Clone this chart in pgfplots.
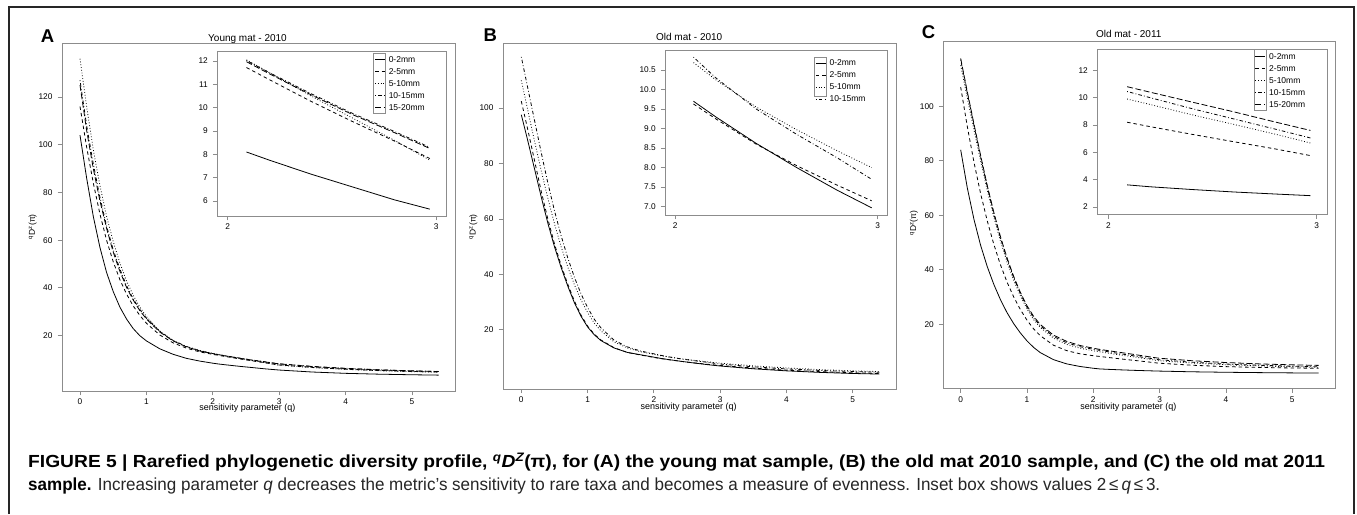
\documentclass[border=0pt]{standalone}
\usepackage{graphicx}
\usepackage{pgfplots}
\pgfplotsset{compat=1.18}
\usepackage{pgfplotstable}
\usepackage{fontspec}
\setmainfont{Liberation Sans}
\definecolor{axgray}{RGB}{140,140,140}

\pgfplotstableread{
q d02 d25 d510 d1015 d1520
0 104 116 136 127 125
0.1 86 99 116 108 106
0.2 70 84 98 92 90
0.3 57 71 83 78 76.5
0.4 46.5 60 70 66 65
0.5 38.5 51 59.5 56 55
0.6 32 43.5 50.5 48 47
0.7 27 37.5 43 41 40.3
0.8 23 32.5 37 35.5 35
0.9 20 28.5 32 31 30.5
1.0 17.8 25.2 28 27.3 27
1.2 14.5 20.3 22 21.8 21.5
1.4 12.2 17 18 18 17.8
1.6 10.5 14.8 15.5 15.5 15.3
1.8 9.35 13.2 13.8 13.7 13.6
2.0 8.45 12.15 12.55 12.47 12.42
2.09 8.1 11.72 12.05 12.02 11.97
2.2 7.75 11.2 11.5 11.5 11.45
2.4 7.15 10.27 10.5 10.6 10.55
2.6 6.6 9.4 9.55 9.75 9.7
2.8 6.05 8.57 8.6 8.98 8.93
2.97 5.65 7.82 7.75 8.3 8.25
3.0 5.58 7.7 7.62 8.2 8.15
3.5 4.75 6.7 6.6 7.1 7.05
4.0 4.2 5.95 5.85 6.3 6.25
4.5 3.85 5.4 5.3 5.7 5.65
5.0 3.6 5.0 4.9 5.25 5.2
5.4 3.45 4.75 4.65 5.0 4.95
}\tabA

\pgfplotstableread{
q d02 d25 d510 d1015
0 97.6 102.5 110 118.5
0.1 88 92 99 107
0.2 78 81 88 95.5
0.3 68 70 77.5 84
0.4 58.5 60 67.5 73
0.5 50 51 58.3 63
0.6 42.5 43.3 50 54
0.7 35.8 36.5 42.7 46
0.8 29.8 30.4 36.3 39
0.9 24.9 25.3 30.8 33
1.0 21.0 21.3 26.2 28
1.1 18.2 18.4 22.4 23.8
1.2 16.1 16.3 19.6 20.7
1.4 13.4 13.5 15.6 16.2
1.6 11.8 11.8 13.4 13.8
1.8 10.95 10.85 12.05 12.3
2.0 10.1 10.0 11.1 11.3
2.09 9.7 9.63 10.69 10.83
2.2 9.3 9.25 10.25 10.3
2.4 8.62 8.6 9.55 9.5
2.6 8.0 8.05 8.97 8.85
2.8 7.42 7.55 8.43 8.25
2.97 6.97 7.15 8.0 7.7
3.0 6.9 7.1 7.93 7.62
3.5 5.9 6.15 6.95 6.6
4.0 5.15 5.4 6.2 5.85
4.5 4.6 4.85 5.6 5.3
5.0 4.2 4.45 5.15 4.9
5.4 4.0 4.2 4.9 4.65
}\tabB

\pgfplotstableread{
q d02 d25 d510 d1015 d1520
0 84 107 115 117 117.5
0.1 70 92.5 103 104.8 105.3
0.2 58.5 79.5 91.3 93 93.5
0.3 49 68 80 81.5 82
0.4 41.2 58 69.2 70.5 71
0.5 34.6 49.3 59.3 60.5 61
0.6 29 41.8 50.5 51.6 52.1
0.7 24.2 35.4 42.8 43.8 44.3
0.8 20.2 30 36.1 37 37.5
0.9 16.8 25.4 30.4 31.2 31.7
1.0 13.9 21.5 25.6 26.3 26.8
1.1 11.5 18.3 21.7 22.4 22.9
1.2 9.6 15.8 18.8 19.4 19.9
1.4 7.0 12.3 14.9 15.5 16.0
1.6 5.45 10.3 12.6 13.2 13.7
1.8 4.5 9.15 11.2 11.75 12.2
2.0 3.85 8.45 10.25 10.8 11.2
2.09 3.62 8.2 9.9 10.45 10.8
2.2 3.48 7.88 9.5 10.0 10.4
2.4 3.28 7.32 8.75 9.2 9.68
2.6 3.1 6.78 8.05 8.45 8.97
2.8 2.95 6.25 7.33 7.7 8.22
2.97 2.83 5.76 6.68 7.05 7.6
3.0 2.81 5.7 6.6 6.95 7.52
3.5 2.55 4.95 5.75 6.05 6.6
4.0 2.38 4.45 5.15 5.4 5.95
4.5 2.25 4.15 4.7 4.95 5.45
5.0 2.15 3.95 4.4 4.6 5.1
5.4 2.1 3.85 4.2 4.4 4.9
}\tabC

\pgfplotsset{
  rbase/.style={
    scale only axis, anchor=south west,
    axis line style={axgray, line width=0.8pt},
    tick style={axgray, line width=0.8pt},
    tick align=outside, major tick length=4.5pt,
    tick pos=left,
    ticklabel style={font=\fontsize{8.3}{9}\selectfont, black},
    /pgf/number format/assume math mode=true,
    yticklabel style={xshift=-1.5pt},
    legend image code/.code={\draw[##1] (0pt,0pt) -- (10pt,0pt);},
  },
  s02/.style={black, line width=0.8pt, solid},
  s25/.style={black, line width=0.8pt, dash pattern=on 3.5pt off 3pt},
  s510/.style={black, line width=0.8pt, dash pattern=on 0.8pt off 2pt},
  s1015/.style={black, line width=0.8pt, dash pattern=on 0.8pt off 2.2pt on 3.5pt off 2.2pt},
  s1520/.style={black, line width=0.8pt, dash pattern=on 6pt off 2.5pt},
  inset/.style={rbase, axis background/.style={fill=white},
    xtick={2,3},
    legend cell align=left,
    legend style={draw=none, fill=none, inner sep=0pt, outer sep=0pt, row sep=0pt,
      anchor=north west, font=\fontsize{8.5}{9}\selectfont,
      nodes={inner sep=0pt, text height=8.85pt, text depth=3.15pt},
      /tikz/every odd column/.append style={column sep=3.3pt}},
  },
}

\newcommand\capone{\textbf{FIGURE 5 | Rarefied phylogenetic diversity profile, \textsuperscript{\itshape q}\textit{D}\textsuperscript{\itshape Z}(π), for (A) the young mat sample, (B) the old mat 2010 sample, and (C) the old mat 2011}}
\newcommand\captwo{\textbf{sample.} {\color{black!85}Increasing parameter \textit{q} decreases the metric’s sensitivity to rare taxa and becomes a measure of evenness. Inset box shows values 2\,≤\,\textit{q}\,≤\,3.}}
\newsavebox\capboxa
\newsavebox\capboxb

\begin{document}
\sbox\capboxa{\fontsize{17.5}{19}\selectfont\capone}%
\sbox\capboxb{\fontsize{17.5}{19}\selectfont\captwo}%
\pgfmathsetmacro\capsa{1297/\wd\capboxa}%
\pgfmathsetmacro\capsb{1132/\wd\capboxb}%
\begin{tikzpicture}
\path[use as bounding box] (0pt,0pt) rectangle (1357pt,514pt);
\draw[line width=1.3pt, black!85] (9pt,0pt) -- (9pt,507pt) -- (1354pt,507pt) -- (1354pt,0pt);

% ---------------- Panel A ----------------
\begin{axis}[rbase, at={(62pt,123pt)}, width=393pt, height=348pt,
  xmin=-0.271, xmax=5.648, ymin=-3.2, ymax=142.6,
  xtick={0,...,5}, ytick={20,40,...,120}]
\addplot[s02] table[x=q,y=d02]{\tabA};
\addplot[s25] table[x=q,y=d25]{\tabA};
\addplot[s510] table[x=q,y=d510]{\tabA};
\addplot[s1015] table[x=q,y=d1015]{\tabA};
\addplot[s1520] table[x=q,y=d1520]{\tabA};
\end{axis}
\begin{axis}[inset, at={(217.3pt,298pt)}, width=229.4pt, height=164.7pt,
  xmin=1.950, xmax=3.051, ymin=5.357, ymax=12.416, ytick={6,...,12},
  legend style={at={(axis description cs:0.686,0.988)}}]
\addplot[s02, restrict x to domain=2.05:2.99] table[x=q,y=d02]{\tabA};
\addplot[s25, restrict x to domain=2.05:2.99] table[x=q,y=d25]{\tabA};
\addplot[s510, restrict x to domain=2.05:2.99] table[x=q,y=d510]{\tabA};
\addplot[s1015, restrict x to domain=2.05:2.99] table[x=q,y=d1015]{\tabA};
\addplot[s1520, restrict x to domain=2.05:2.99] table[x=q,y=d1520]{\tabA};
\legend{0-2mm,2-5mm,5-10mm,10-15mm,15-20mm}
\end{axis}
\draw[axgray, line width=0.7pt] (373.3pt,400.7pt) rectangle (385.7pt,460.7pt);

% ---------------- Panel B ----------------
\begin{axis}[rbase, at={(503pt,125pt)}, width=393pt, height=346pt,
  xmin=-0.276, xmax=5.652, ymin=-1.4, ymax=123.5,
  xtick={0,...,5}, ytick={20,40,...,100}]
\addplot[s02] table[x=q,y=d02]{\tabB};
\addplot[s25] table[x=q,y=d25]{\tabB};
\addplot[s510] table[x=q,y=d510]{\tabB};
\addplot[s1015] table[x=q,y=d1015]{\tabB};
\end{axis}
\begin{axis}[inset, at={(665.3pt,299pt)}, width=222.4pt, height=165pt,
  xmin=1.951, xmax=3.049, ymin=6.787, ymax=11.012, ytick={7,7.5,...,10.5},
  yticklabel style={/pgf/number format/.cd, fixed, fixed zerofill, precision=1},
  legend style={at={(axis description cs:0.675,0.958)}}]
\addplot[s02, restrict x to domain=2.05:2.99] table[x=q,y=d02]{\tabB};
\addplot[s25, restrict x to domain=2.05:2.99] table[x=q,y=d25]{\tabB};
\addplot[s510, restrict x to domain=2.05:2.99] table[x=q,y=d510]{\tabB};
\addplot[s1015, restrict x to domain=2.05:2.99] table[x=q,y=d1015]{\tabB};
\legend{0-2mm,2-5mm,5-10mm,10-15mm}
\end{axis}
\draw[axgray, line width=0.7pt] (814pt,417.3pt) rectangle (826pt,456.7pt);

% ---------------- Panel C ----------------
\begin{axis}[rbase, at={(943.3pt,125.7pt)}, width=392.4pt, height=347.3pt,
  xmin=-0.262, xmax=5.656, ymin=-3.5, ymax=123.9,
  xtick={0,...,5}, ytick={20,40,...,100}]
\addplot[s02] table[x=q,y=d02]{\tabC};
\addplot[s25] table[x=q,y=d25]{\tabC};
\addplot[s510] table[x=q,y=d510]{\tabC};
\addplot[s1015] table[x=q,y=d1015]{\tabC};
\addplot[s1520] table[x=q,y=d1520]{\tabC};
\end{axis}
\begin{axis}[inset, at={(1097.3pt,299.7pt)}, width=230pt, height=165pt,
  xmin=1.947, xmax=3.051, ymin=1.466, ymax=13.536, ytick={2,4,...,12},
  legend style={at={(axis description cs:0.686,0.992)}}]
\addplot[s02, restrict x to domain=2.05:2.99] table[x=q,y=d02]{\tabC};
\addplot[s25, restrict x to domain=2.05:2.99] table[x=q,y=d25]{\tabC};
\addplot[s510, restrict x to domain=2.05:2.99] table[x=q,y=d510]{\tabC};
\addplot[s1015, restrict x to domain=2.05:2.99] table[x=q,y=d1015]{\tabC};
\addplot[s1520, restrict x to domain=2.05:2.99] table[x=q,y=d1520]{\tabC};
\legend{0-2mm,2-5mm,5-10mm,10-15mm,15-20mm}
\end{axis}
\draw[axgray, line width=0.7pt] (1254pt,404pt) rectangle (1266pt,464.7pt);

% ---------------- labels ----------------
\node[anchor=base west, inner sep=0pt, font=\fontsize{18.5}{20}\selectfont\bfseries] at (40.7pt,471.3pt) {A};
\node[anchor=base west, inner sep=0pt, font=\fontsize{18.5}{20}\selectfont\bfseries] at (483.3pt,472pt) {B};
\node[anchor=base west, inner sep=0pt, font=\fontsize{18.5}{20}\selectfont\bfseries] at (921.7pt,475pt) {C};
\node[anchor=base, inner sep=0pt, font=\fontsize{10}{11}\selectfont] at (247.5pt,472.7pt) {Young mat - 2010};
\node[anchor=base, inner sep=0pt, font=\fontsize{10}{11}\selectfont] at (689.2pt,473.3pt) {Old mat - 2010};
\node[anchor=base, inner sep=0pt, font=\fontsize{10}{11}\selectfont] at (1128.7pt,476.7pt) {Old mat - 2011};
\node[anchor=base, inner sep=0pt, font=\fontsize{9}{10}\selectfont] at (247.3pt,103pt) {sensitivity parameter (q)};
\node[anchor=base, inner sep=0pt, font=\fontsize{9}{10}\selectfont] at (688.7pt,104pt) {sensitivity parameter (q)};
\node[anchor=base, inner sep=0pt, font=\fontsize{9}{10}\selectfont] at (1128.3pt,104.7pt) {sensitivity parameter (q)};
\node[rotate=90, inner sep=0pt, font=\fontsize{8.5}{9}\selectfont] at (32.7pt,287.3pt) {\textsuperscript{q}D\textsuperscript{z}(π)};
\node[rotate=90, inner sep=0pt, font=\fontsize{8.5}{9}\selectfont] at (473.3pt,287.3pt) {\textsuperscript{q}D\textsuperscript{z}(π)};
\node[rotate=90, inner sep=0pt, font=\fontsize{8.5}{9}\selectfont] at (914pt,290.7pt) {\textsuperscript{q}D\textsuperscript{z}(π)};

% ---------------- caption ----------------
\node[anchor=base west, inner sep=0pt] at (28pt,46pt) {\scalebox{\capsa}[1]{\usebox\capboxa}};
\node[anchor=base west, inner sep=0pt] at (28pt,23.5pt) {\scalebox{\capsb}[1]{\usebox\capboxb}};
\end{tikzpicture}
\end{document}
